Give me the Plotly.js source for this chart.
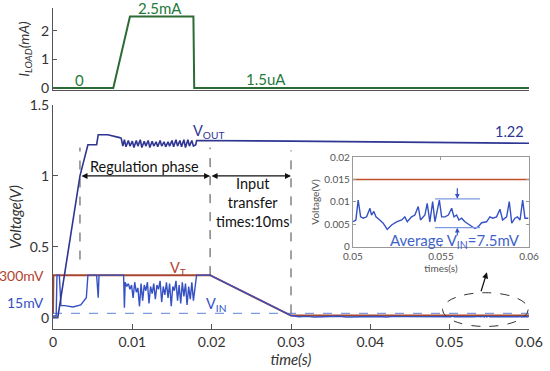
<!DOCTYPE html>
<html><head><meta charset="utf-8">
<script src="https://cdn.plot.ly/plotly-3.0.1.min.js"></script>
<style>html,body{margin:0;padding:0;background:#fff}#chart{width:550px;height:371px}</style>
</head><body><div id="chart"></div>
<script>
// ---- Load current (mA) ----
const loadT = [0, 0.0076, 0.0097, 0.0177, 0.0178, 0.06];
const loadI = [0, 0, 2.5, 2.5, 0.0015, 0.0015];

// ---- Output voltage (V) ----
const voutT = [0, 0.0006, 0.0034, 0.0044, 0.0055, 0.0057, 0.0069, 0.0078, 0.0084,
  0.0086, 0.0088, 0.0090, 0.0092, 0.0095, 0.0097, 0.0100, 0.0102, 0.0105, 0.0107,
  0.0110, 0.0112, 0.0115, 0.0117, 0.0120, 0.0122, 0.0125, 0.0127, 0.0130, 0.0132,
  0.0135, 0.0137, 0.0140, 0.0142, 0.0145, 0.0147, 0.0150, 0.0152, 0.0155, 0.0157,
  0.0160, 0.0162, 0.0165, 0.0167, 0.0170, 0.0172, 0.0175, 0.0177, 0.0180, 0.0181,
  0.030, 0.045, 0.060];
const voutV = [0, 0, 1.0, 1.22, 1.22, 1.29, 1.29, 1.28, 1.27,
  1.265, 1.21, 1.255, 1.205, 1.25, 1.21, 1.245, 1.20, 1.25, 1.21,
  1.255, 1.20, 1.245, 1.21, 1.25, 1.20, 1.245, 1.21, 1.24, 1.205,
  1.25, 1.21, 1.24, 1.205, 1.24, 1.21, 1.25, 1.205, 1.255, 1.21,
  1.25, 1.205, 1.255, 1.20, 1.255, 1.21, 1.25, 1.21, 1.22, 1.25,
  1.245, 1.235, 1.23];

// ---- Threshold voltage VT (V) ----
const vtT = [0, 0.00005, 0.0198, 0.0300, 0.0600];
const vtV = [0.03, 0.30, 0.30, 0.015, 0.015];

// ---- Input voltage VIN (V), main view ----
const vinT = [0, 0.0004, 0.0005, 0.0008, 0.0010, 0.0015, 0.0025, 0.0035, 0.0042, 0.0044,
  0.0055, 0.0057, 0.0058, 0.0089,
  0.0090, 0.0091, 0.0093, 0.0095, 0.0097, 0.0099, 0.0101, 0.0103, 0.0105, 0.0107,
  0.0109, 0.0111, 0.0113, 0.0115, 0.0117, 0.0119, 0.0121, 0.0123, 0.0125, 0.0127,
  0.0129, 0.0131, 0.0133, 0.0135, 0.0137, 0.0139, 0.0141, 0.0143, 0.0145, 0.0147,
  0.0149, 0.0151, 0.0153, 0.0155, 0.0157, 0.0159, 0.0161, 0.0163, 0.0165, 0.0167,
  0.0169, 0.0171, 0.0173, 0.0175, 0.0177, 0.0179, 0.0181,
  0.0198, 0.0300,
  0.031, 0.032, 0.033, 0.034, 0.035, 0.036, 0.037, 0.038, 0.039, 0.040,
  0.041, 0.042, 0.043, 0.044, 0.045, 0.046, 0.047, 0.048, 0.049];
const vinV = [0.012, 0.012, 0.30, 0.30, 0.085, 0.085, 0.075, 0.09, 0.14, 0.30,
  0.30, 0.14, 0.30, 0.30,
  0.07, 0.25, 0.22, 0.24, 0.20, 0.23, 0.14, 0.25, 0.18, 0.21,
  0.08, 0.24, 0.12, 0.23, 0.19, 0.25, 0.10, 0.22, 0.17, 0.24,
  0.13, 0.23, 0.20, 0.26, 0.11, 0.22, 0.16, 0.25, 0.14, 0.24,
  0.08, 0.22, 0.19, 0.26, 0.12, 0.23, 0.10, 0.25, 0.15, 0.24,
  0.09, 0.22, 0.13, 0.25, 0.12, 0.20, 0.30,
  0.30, 0.015,
  0.006, 0.009, 0.005, 0.008, 0.006, 0.010, 0.005, 0.007, 0.009, 0.006,
  0.008, 0.005, 0.009, 0.007, 0.006, 0.010, 0.006, 0.008, 0.007];

// ---- Inset: VIN detail 0.05–0.06 s ----
const insT = [0.05002,0.05017,0.05030,0.05044,0.05059,0.05078,0.05097,0.05106,0.05119,0.05131,
  0.05153,0.05172,0.05195,0.05220,0.05248,0.05277,0.05295,0.05309,0.05333,0.05352,
  0.05371,0.05384,0.05409,0.05422,0.05437,0.05453,0.05466,0.05491,0.05504,0.05523,
  0.05542,0.05561,0.05574,0.05589,0.05602,0.05617,0.05636,0.05665,0.05693,0.05712,
  0.05731,0.05759,0.05778,0.05794,0.05816,0.05835,0.05850,0.05873,0.05888,0.05902,
  0.05920,0.05934,0.05949,0.05964,0.05977,0.05996];
const insV = [0.0056,0.0060,0.0104,0.0067,0.0064,0.0067,0.0086,0.0071,0.0079,0.0067,
  0.0060,0.0053,0.0039,0.0049,0.0056,0.0060,0.0067,0.0056,0.0067,0.0071,
  0.0090,0.0060,0.0071,0.0097,0.0056,0.0101,0.0056,0.0104,0.0067,0.0067,
  0.0071,0.0086,0.0067,0.0071,0.0060,0.0064,0.0056,0.0049,0.0041,0.0045,
  0.0054,0.0056,0.0067,0.0064,0.0067,0.0084,0.0060,0.0067,0.0101,0.0053,
  0.0064,0.0067,0.0060,0.0104,0.0064,0.0064];
const insVT = [0.015, 0.015];
const insVTt = [0.05, 0.06];

// ---- Reference levels / markers ----
const refLevel = 0.03;           // 15 mV dashed reference (drawn position)
const phaseT = [0.0034, 0.0198, 0.0300];
const xTicks = [0, 0.01, 0.02, 0.03, 0.04, 0.05, 0.06];
const xTickText = ['0', '0.01', '0.02', '0.03', '0.04', '0.05', '0.06'];
const yTicks = [0, 0.5, 1, 1.5];
const yTickText = ['0', '0.5', '1', '1.5'];
const loadTicks = [0, 1, 2];
const loadTickText = ['0', '1', '2'];
const insXTicks = [0.05, 0.055, 0.06];
const insXText = ['0.05', '0.055', '0.06'];
const insYTicks = [0, 0.005, 0.01, 0.015, 0.02];
const insYText = ['0', '0.005', '0.01', '0.015', '0.02'];

const GREEN = '#2c6b34', GTEXT = '#1f7a3c';
const NAVY = '#2e3592', BLUE = '#3551c4', LBLUE = '#3f63cc';
const RED = '#a8452f', RTEXT = '#b5412f';
const AX = '#555555', TK = '#333333';

const vinAllT = vinT.concat(insT);
const vinAllV = vinV.concat(insV);

const traces = [
  {x: loadT, y: loadI, xaxis: 'x', yaxis: 'y', mode: 'lines', line: {color: GREEN, width: 2}},
  {x: [0, 0.06], y: [refLevel, refLevel], xaxis: 'x2', yaxis: 'y2', mode: 'lines', line: {color: '#7f9be0', width: 1.2, dash: 'dash'}},
  {x: vtT, y: vtV, xaxis: 'x2', yaxis: 'y2', mode: 'lines', line: {color: RED, width: 2}},
  {x: vinAllT, y: vinAllV, xaxis: 'x2', yaxis: 'y2', mode: 'lines', line: {color: BLUE, width: 1.4}},
  {x: voutT, y: voutV, xaxis: 'x2', yaxis: 'y2', mode: 'lines', line: {color: NAVY, width: 1.6}},
  {x: insVTt, y: insVT, xaxis: 'x3', yaxis: 'y3', mode: 'lines', line: {color: '#c0502a', width: 1.6}},
  {x: insT, y: insV, xaxis: 'x3', yaxis: 'y3', mode: 'lines', line: {color: BLUE, width: 1.4}}
];

const dashTops = [1.2, 1.2, 1.18];
const dashBots = [0.41, 0.30, 0.03];
const shapes = phaseT.map((t, i) => ({type: 'line', xref: 'x2', yref: 'y2', x0: t, x1: t, y0: dashBots[i], y1: dashTops[i], line: {color: '#444', width: 1, dash: 'dash'}}));
shapes.push({type: 'circle', xref: 'x2', yref: 'y2', x0: 0.0491, x1: 0.0599, y0: -0.062, y1: 0.176, line: {color: '#333', width: 1, dash: 'dash'}});
shapes.push({type: 'line', xref: 'x3', yref: 'y3', x0: 0.05466, x1: 0.05722, y0: 0.0107, y1: 0.0107, line: {color: '#7f9be0', width: 1.2}});
shapes.push({type: 'line', xref: 'x3', yref: 'y3', x0: 0.05466, x1: 0.05722, y0: 0.0043, y1: 0.0043, line: {color: '#7f9be0', width: 1.2}});

const F = 'Lato, "Open Sans", sans-serif';
function txt(text, x, y, color, opts) {
  return Object.assign({text: text, x: x, y: y, xref: 'x2', yref: 'y2', showarrow: false,
    font: {family: F, size: 14.5, color: color}}, opts || {});
}
const annotations = [
  txt('0', 0.0034, 0.28, GTEXT, {xref: 'x', yref: 'y', font: {family: F, size: 15, color: GTEXT}}),
  txt('2.5mA', 0.0135, 1.0, GTEXT, {xref: 'x', yref: 'paper', yanchor: 'middle', font: {family: F, size: 15, color: GTEXT}}),
  txt('1.5uA', 0.0269, 0.32, GTEXT, {xref: 'x', yref: 'y', font: {family: F, size: 15, color: GTEXT}}),
  txt('V<sub>OUT</sub>', 0.0196, 1.315, NAVY),
  txt('1.22', 0.0576, 1.31, NAVY),
  txt('Regulation phase', 0.0115, 1.066, '#111'),
  txt('Input<br>transfer<br>times:10ms', 0.0252, 0.81, '#111'),
  txt('V<sub>T</sub>', 0.0157, 0.35, RTEXT),
  txt('V<sub>IN</sub>', 0.0205, 0.09, BLUE),
  txt('300mV', 0, 0.30, RTEXT, {xref: 'paper', x: -0.015, xanchor: 'right', font: {family: F, size: 14, color: RTEXT}}),
  txt('15mV', 0, 0.106, BLUE, {xref: 'paper', x: -0.015, xanchor: 'right', font: {family: F, size: 14, color: BLUE}}),
  txt('Average V<sub>IN</sub>=7.5mV', 0.0558, 0.0014, LBLUE, {xref: 'x3', yref: 'y3', font: {family: F, size: 15, color: LBLUE}}),
  // double-headed arrows
  {x: 0.0198, y: 1, ax: 0.0034, ay: 1, xref: 'x2', yref: 'y2', axref: 'x2', ayref: 'y2', text: '', showarrow: true,
    arrowside: 'end+start', arrowhead: 2, startarrowhead: 2, arrowsize: 1, startarrowsize: 1, arrowwidth: 1.2, arrowcolor: '#111', standoff: 0, startstandoff: 0},
  {x: 0.0300, y: 1, ax: 0.0198, ay: 1, xref: 'x2', yref: 'y2', axref: 'x2', ayref: 'y2', text: '', showarrow: true,
    arrowside: 'end+start', arrowhead: 2, startarrowhead: 2, arrowsize: 1, startarrowsize: 1, arrowwidth: 1.2, arrowcolor: '#111', standoff: 0, startstandoff: 0},
  // ellipse pointer
  {x: 0.0547, y: 0.32, ax: 0.0539, ay: 0.176, xref: 'x2', yref: 'y2', axref: 'x2', ayref: 'y2', text: '', showarrow: true,
    arrowhead: 2, arrowsize: 1, arrowwidth: 1.2, arrowcolor: '#111', standoff: 0},
  // inset ripple arrows
  {x: 0.05593, y: 0.0107, ax: 0.05593, ay: 0.0134, xref: 'x3', yref: 'y3', axref: 'x3', ayref: 'y3', text: '', showarrow: true,
    arrowhead: 2, arrowsize: 0.8, arrowwidth: 1.2, arrowcolor: '#3551c4', standoff: 0},
  {x: 0.05593, y: 0.0043, ax: 0.05593, ay: 0.0023, xref: 'x3', yref: 'y3', axref: 'x3', ayref: 'y3', text: '', showarrow: true,
    arrowhead: 2, arrowsize: 0.8, arrowwidth: 1.2, arrowcolor: '#3551c4', standoff: 0}
];

const tickFont = {family: F, size: 14, color: TK};
const insFont = {family: F, size: 10, color: '#555'};
const layout = {
  width: 550, height: 371,
  margin: {l: 53, r: 21, t: 8, b: 42},
  paper_bgcolor: '#fff', plot_bgcolor: 'rgba(0,0,0,0)',
  showlegend: false,
  font: {family: F, color: TK},
  xaxis: {domain: [0, 1], anchor: 'y', range: [0, 0.06], showline: true, linecolor: AX, linewidth: 1,
    showticklabels: false, ticks: '', showgrid: false, zeroline: false},
  yaxis: {domain: [0.7445, 1], anchor: 'x', range: [-0.07, 2.8], tickvals: loadTicks, ticktext: loadTickText,
    ticks: 'inside', ticklen: 4, tickcolor: AX, showline: true, linecolor: AX, showgrid: false, zeroline: false,
    tickfont: tickFont, title: {text: '<i>I<sub>LOAD</sub>(mA)</i>', font: {family: F, size: 14, color: TK}, standoff: 8}},
  xaxis2: {domain: [0, 1], anchor: 'y2', range: [0, 0.06], tickvals: xTicks, ticktext: xTickText,
    ticks: 'inside', ticklen: 5, tickcolor: AX, showline: true, linecolor: AX, showgrid: false, zeroline: false,
    tickfont: tickFont, title: {text: '<i>time(s)</i>', font: {family: F, size: 15, color: TK}, standoff: 2}},
  yaxis2: {domain: [0, 0.6978], anchor: 'x2', range: [-0.08, 1.5], tickvals: yTicks, ticktext: yTickText,
    ticks: 'inside', ticklen: 5, tickcolor: AX, showline: true, linecolor: AX, showgrid: false, zeroline: false,
    tickfont: tickFont, title: {text: '<i>Voltage(V)</i>', font: {family: F, size: 15, color: TK}, standoff: 4}},
  xaxis3: {domain: [0.630, 1.0], anchor: 'y3', range: [0.05, 0.06], tickvals: insXTicks, ticktext: insXText,
    ticks: 'inside', ticklen: 3, tickcolor: '#999', showline: true, mirror: 'ticks', linecolor: '#999', showgrid: false, zeroline: false,
    tickfont: insFont, title: {text: 'times(s)', font: insFont, standoff: 2}},
  yaxis3: {domain: [0.2555, 0.5358], anchor: 'x3', range: [0, 0.02], tickvals: insYTicks, ticktext: insYText,
    ticks: 'inside', ticklen: 3, tickcolor: '#999', showline: true, mirror: 'ticks', linecolor: '#999', showgrid: false, zeroline: false,
    tickfont: insFont, title: {text: 'Voltage(V)', font: insFont, standoff: 2}},
  shapes: shapes,
  annotations: annotations
};
Plotly.newPlot('chart', traces, layout, {staticPlot: true, displayModeBar: false});
</script>
</body></html>
